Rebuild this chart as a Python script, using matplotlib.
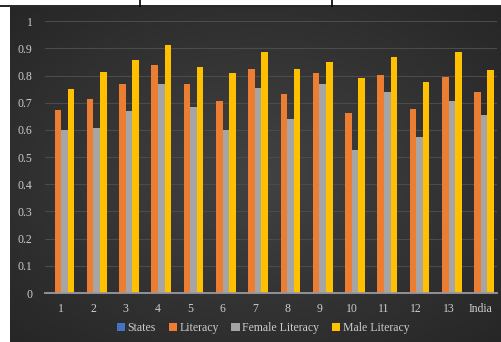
import matplotlib
matplotlib.use("Agg")
import matplotlib.pyplot as plt
import numpy as np

plt.rcParams['font.family'] = ['Liberation Serif', 'DejaVu Serif']

# Data
categories = ['1', '2', '3', '4', '5', '6', '7', '8', '9', '10', '11', '12', '13', 'India']
states = [0] * 14
literacy = [0.673, 0.713, 0.768, 0.838, 0.771, 0.705, 0.825, 0.734, 0.808, 0.662, 0.804, 0.676, 0.795, 0.741]
female = [0.599, 0.607, 0.669, 0.768, 0.684, 0.599, 0.756, 0.642, 0.768, 0.526, 0.738, 0.574, 0.708, 0.654]
male = [0.749, 0.815, 0.857, 0.911, 0.830, 0.808, 0.886, 0.826, 0.849, 0.793, 0.870, 0.775, 0.886, 0.822]
y_ticks = [0, 0.1, 0.2, 0.3, 0.4, 0.5, 0.6, 0.7, 0.8, 0.9, 1]

series = [
    ('States', states, '#4472C4'),
    ('Literacy', literacy, '#ED7D31'),
    ('Female Literacy', female, '#A5A5A5'),
    ('Male Literacy', male, '#FFC000'),
]

text_col = '#cccccc'

fig = plt.figure(figsize=(5.02, 3.42), dpi=100)
fig.patch.set_facecolor('white')

# dark chart area with a soft radial gradient
bg = fig.add_axes([10 / 502, 0, 492 / 502, 335 / 342])
yy, xx = np.mgrid[-1:1:200j, -1:1:300j]
r = np.sqrt(xx ** 2 + yy ** 2) / np.sqrt(2)
shade = 0.26 - 0.11 * r
img = np.dstack([shade, shade, shade])
bg.imshow(img, aspect='auto', extent=[0, 1, 0, 1])
bg.set_axis_off()

# little black frame bits from the screenshot edge
fig.add_artist(plt.Line2D([0, 1], [1 - 6 / 342, 1 - 6 / 342], color='black', lw=1.2))
for xp in [140, 332]:
    fig.add_artist(plt.Line2D([xp / 502, xp / 502], [1 - 6 / 342, 1], color='black', lw=1.2))

ax = fig.add_axes([45 / 502, 49 / 342, 452 / 502, 271.7 / 342])
ax.set_facecolor('none')

x = np.arange(len(categories))
w = 0.204
for i, (name, vals, col) in enumerate(series):
    ax.bar(x + (i - 1.5) * w, vals, width=w, color=col, label=name, zorder=3)

ax.set_xlim(-0.5, len(categories) - 0.5)
ax.set_ylim(0, 1)
ax.set_yticks(y_ticks)
ax.set_yticklabels(['0', '0.1', '0.2', '0.3', '0.4', '0.5', '0.6', '0.7', '0.8', '0.9', '1'])
ax.set_xticks(x)
ax.set_xticklabels(categories)
ax.tick_params(axis='both', length=0, colors=text_col, labelsize=8.5)
ax.tick_params(axis='y', pad=9)
ax.tick_params(axis='x', pad=7)
ax.grid(axis='y', color='#4b4b4b', lw=0.8, zorder=0)
for s in ['top', 'right', 'left']:
    ax.spines[s].set_visible(False)
ax.spines['bottom'].set_color('#9a9a9a')
ax.spines['bottom'].set_linewidth(1.3)
ax.spines['bottom'].set_zorder(4)

leg = fig.legend(loc='center', bbox_to_anchor=(263 / 502, 14 / 342), ncol=4, frameon=False,
                 fontsize=8.5, handlelength=0.7, handleheight=0.7, handletextpad=0.2,
                 columnspacing=1.1)
for t in leg.get_texts():
    t.set_color(text_col)

fig.savefig('out.png', dpi=100)
